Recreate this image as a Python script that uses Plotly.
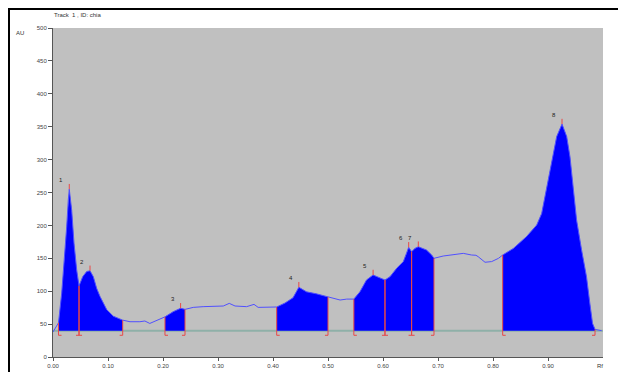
import numpy as np
import plotly.graph_objects as go

# Densitogram of track 1 (chia): Rf position vs. detector response (AU)
rf = [0.000, 0.010, 0.0158, 0.0205, 0.0249, 0.0278, 0.0296, 0.0340, 0.0382, 0.0431,
      0.0473, 0.054, 0.0613, 0.0673, 0.0733, 0.0795, 0.0855, 0.0976, 0.1096, 0.1267,
      0.140, 0.158, 0.167, 0.176, 0.1885, 0.2036, 0.219, 0.232, 0.240, 0.255,
      0.273, 0.2915, 0.3096, 0.3205, 0.331, 0.352, 0.3655, 0.373, 0.4067, 0.4218,
      0.4364, 0.447, 0.461, 0.479, 0.500, 0.522, 0.534, 0.547, 0.558, 0.570,
      0.582, 0.5945, 0.6036, 0.6127, 0.625, 0.637, 0.643, 0.6467, 0.652, 0.658,
      0.6642, 0.679, 0.6885, 0.6927, 0.7096, 0.728, 0.746, 0.761, 0.769, 0.773,
      0.7855, 0.7976, 0.810, 0.8176, 0.837, 0.861, 0.8795, 0.8885, 0.8976, 0.9067,
      0.9158, 0.9255, 0.934, 0.940, 0.946, 0.952, 0.961, 0.970, 0.976, 0.981,
      0.9855, 0.9976]
au = [38, 52, 97, 147, 198, 239, 255, 223, 173, 132,
      108, 122, 130, 131, 122, 104, 92, 72, 62, 56,
      53.6, 53.6, 54.7, 51, 56, 61, 69, 74, 72.4, 75.4,
      76.5, 76.5, 77.5, 81.5, 77.5, 76.5, 80, 75.4, 76, 82,
      90, 106, 99, 96, 91, 86.6, 88, 88, 99, 117,
      124.6, 120, 117, 122, 135, 145, 157.6, 166.7, 160, 165,
      167.6, 162.6, 155, 150, 153.5, 156, 157.5, 155, 154.6, 152.5,
      144, 145, 150, 155, 165, 183, 200.6, 218, 259, 299,
      335, 354, 335, 304, 254, 208, 163, 122, 82, 51,
      42, 40]

# Integrated peaks: start, end and maximum positions (Rf)
peak_ids = ["1", "2", "3", "4", "5", "6", "7", "8"]
peak_start = [0.010, 0.0473, 0.2036, 0.4067, 0.547, 0.6036, 0.652, 0.8176]
peak_end = [0.0473, 0.1267, 0.240, 0.500, 0.6036, 0.652, 0.6927, 0.9855]
peak_max = [0.0296, 0.0673, 0.232, 0.447, 0.582, 0.6467, 0.6642, 0.9255]
baseline = 40

y_ticks = list(range(0, 501, 50))
x_ticks = [0.0, 0.1, 0.2, 0.3, 0.4, 0.5, 0.6, 0.7, 0.8, 0.9]

rf_a = np.array(rf)
au_a = np.array(au)

BLUE_FILL = "#0000ff"
BLUE_LINE = "rgb(80,80,255)"
RED = "rgb(232,72,72)"
BASE = "#8fb0a8"
FONT = "Liberation Sans"

fig = go.Figure()

# integration baseline
fig.add_trace(go.Scatter(x=[0, 1.0], y=[baseline, baseline], mode="lines",
                         line=dict(color=BASE, width=2), hoverinfo="skip"))

# filled peak areas between baseline and signal
for s, e in zip(peak_start, peak_end):
    inner = (rf_a > s) & (rf_a < e)
    xs = [s] + list(rf_a[inner]) + [e]
    ys = [float(np.interp(s, rf_a, au_a))] + list(au_a[inner]) + [float(np.interp(e, rf_a, au_a))]
    xs += [e, s]
    ys += [baseline, baseline]
    fig.add_trace(go.Scatter(x=xs, y=ys, mode="lines", fill="toself",
                             fillcolor=BLUE_FILL, line=dict(width=0),
                             hoverinfo="skip"))

# raw signal
fig.add_trace(go.Scatter(x=rf, y=au, mode="lines",
                         line=dict(color=BLUE_LINE, width=1), hoverinfo="skip"))

# peak boundary markers and apex ticks
rx, ry = [], []
low = baseline - 7
tick_w = 0.0055
for s, e in zip(peak_start, peak_end):
    for pos, d in ((s, tick_w), (e, -tick_w)):
        top = float(np.interp(pos, rf_a, au_a))
        rx += [pos, pos, None, pos, pos + d, None]
        ry += [top, low, None, low, low, None]
for m in peak_max:
    v = float(np.interp(m, rf_a, au_a))
    rx += [m, m, None]
    ry += [v, v + 8, None]
fig.add_trace(go.Scatter(x=rx, y=ry, mode="lines", line=dict(color=RED, width=1),
                         hoverinfo="skip", connectgaps=False))

# peak numbers
for pid, m in zip(peak_ids, peak_max):
    v = float(np.interp(m, rf_a, au_a))
    fig.add_annotation(x=m, y=v, text=pid, showarrow=False, xshift=-8, yshift=9,
                       font=dict(family=FONT, size=6, color="#222"))

# headings and axis units
fig.add_annotation(xref="paper", yref="paper", x=-0.002, y=1.0395, text="Track  1 , ID: chia",
                   showarrow=False, xanchor="left", yanchor="middle",
                   font=dict(family=FONT, size=6, color="#333"))
fig.add_annotation(xref="paper", yref="paper", x=-0.06, y=0.985, text="AU",
                   showarrow=False, xanchor="center", yanchor="middle",
                   font=dict(family=FONT, size=6, color="#333"))
fig.add_annotation(xref="paper", yref="paper", x=0.994, y=-0.027, text="Rf",
                   showarrow=False, xanchor="center", yanchor="middle",
                   font=dict(family=FONT, size=6, color="#333"))

# outer frame
fig.add_shape(type="rect", xref="paper", yref="paper", x0=-0.08, y0=-0.2,
              x1=1.2, y1=1.0578, line=dict(color="black", width=2), layer="above")

fig.update_layout(
    width=618, height=372,
    margin=dict(l=53, r=15, t=28, b=15, autoexpand=False),
    paper_bgcolor="white", plot_bgcolor="#c0c0c0",
    showlegend=False, hovermode=False,
    font=dict(family=FONT, size=6, color="#444"),
)
fig.update_xaxes(range=[0, 1.0], tickvals=x_ticks,
                 ticktext=[f"{t:.2f}" for t in x_ticks], automargin=False,
                 showgrid=False, zeroline=False, showline=True, linecolor="#555",
                 linewidth=1, ticks="outside", ticklen=3, tickcolor="#555",
                 tickfont=dict(family=FONT, size=6, color="#444"))
fig.update_yaxes(range=[0, 500], tickvals=y_ticks, automargin=False,
                 showgrid=False, zeroline=False, showline=True, linecolor="#555",
                 linewidth=1, ticks="outside", ticklen=4, tickcolor="#555",
                 tickfont=dict(family=FONT, size=6, color="#444"))

fig.write_html("out.html", config={"displayModeBar": False})
